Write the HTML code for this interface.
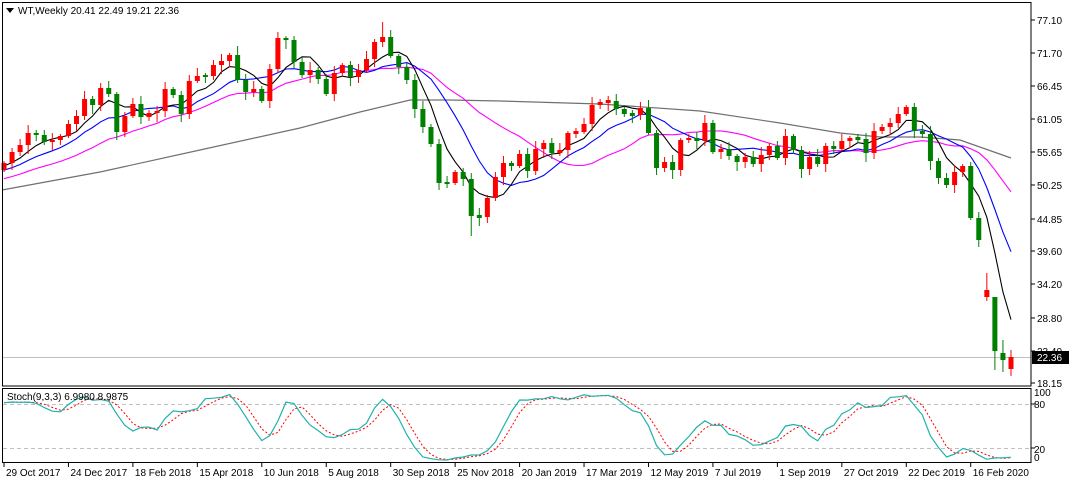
<!DOCTYPE html>
<html><head><meta charset="utf-8">
<style>
html,body{margin:0;padding:0;background:#fff;}
svg{display:block;font-family:"Liberation Sans",sans-serif;}
</style></head>
<body>
<svg id="s" width="1071" height="484" xmlns="http://www.w3.org/2000/svg"></svg>
<script>
var C=[163,152,145,133,135,142,140,136,124,116,99,105,88,94,132,116,104,117,113,111,89,95,114,81,76,76,65,61,55,80,92,89,101,69,38,40,62,75,70,79,94,73,65,77,70,59,42,37,56,67,80,109,127,144,183,183,172,179,216,217,198,177,163,166,154,171,149,143,153,150,133,132,124,105,102,101,109,114,115,108,133,168,162,170,140,138,141,123,152,149,156,162,157,164,155,146,158,136,150,169,157,164,146,149,141,138,139,153,131,127,123,114,107,131,134,161,178,185,172,166,218,240,290,351,360,357];
var O=C.map(function(v,i){return i?C[i-1]:170});
O[123]=297;O[124]=353;O[125]=369;O[122]=297;
var N=C.length,sp=(1011-4)/(N-1);
function X(i){return 4+i*sp;}
var H=[],L=[];
for(var i=0;i<N;i++){var r1=2+((i*37)%7),r2=2+((i*53)%8);H.push(Math.min(O[i],C[i])-r1);L.push(Math.max(O[i],C[i])+r2);}
H[34]=32;H[47]=22;L[58]=236;H[29]=46;L[54]=190;H[122]=273;L[124]=372;L[125]=376;H[124]=340;H[123]=300;L[123]=370;
var s='';
function ln(x1,y1,x2,y2,c,w,d){s+='<line x1="'+x1+'" y1="'+y1+'" x2="'+x2+'" y2="'+y2+'" stroke="'+c+'" stroke-width="'+(w||1)+'"'+(d?' stroke-dasharray="'+d+'"':'')+'/>';}
function pl(pts,c,w,d){s+='<polyline fill="none" points="'+pts.join(' ')+'" stroke="'+c+'" stroke-width="'+(w||1)+'"'+(d?' stroke-dasharray="'+d+'"':'')+'/>';}
ln(2,357.5,1031,357.5,'#c0c0c0',1);
pl(['2,190','100,172','200,150','300,128','360,112','410,100','450,100','500,101','600,104','700,111','780,123','840,133','880,137','920,137','960,140','1011,158'],'#707070',1.2);
var pad=[];for(var k=0;k<25;k++)pad.push(205-k*1.7);
var A=pad.concat(C);
function ma(p,col){var pts=[];for(var i=0;i<N;i++){var t=0;for(var j=0;j<p;j++)t+=A[i+25-j];pts.push(X(i).toFixed(1)+','+(t/p).toFixed(1));}pl(pts,col,1.1);}
ma(20,'#ff00ff');ma(10,'#0000ff');ma(5,'#000000');
for(var i=0;i<N;i++){var x=X(i),up=C[i]<O[i],col=up?'#ff0000':'#008000';
ln(x,H[i],x,L[i],col,1);var t=Math.min(O[i],C[i]),b=Math.max(O[i],C[i]);if(b-t<2){t-=1;b+=1;}
s+='<rect x="'+(x-2.5)+'" y="'+t+'" width="5" height="'+(b-t)+'" fill="'+col+'"/>';}
s+='<rect x="2.5" y="2.5" width="1028.5" height="383.5" fill="none" stroke="#000"/>';
s+='<rect x="2.5" y="388.5" width="1028.5" height="74" fill="none" stroke="#000"/>';
var pl2=[[77.10,20],[71.70,53],[66.45,86],[61.05,119],[55.65,152],[50.25,185],[44.85,219],[39.60,251],[34.20,284],[28.80,318],[23.40,351],[18.15,383]];
pl2.forEach(function(p){ln(1031,p[1],1035,p[1],'#000');s+='<text x="1037" y="'+(p[1]+4)+'" font-size="10" fill="#000">'+p[0].toFixed(2)+'</text>';});
s+='<rect x="1032" y="351" width="37" height="13" fill="#000"/><text x="1037" y="361" font-size="10" fill="#fff">22.36</text>';
function SY(v){return 462.7-v*0.733;}
ln(3,404.5,1030,404.5,'#c0c0c0',1,'4,3');ln(3,448.5,1030,448.5,'#c0c0c0',1,'4,3');
var raw=[];for(var i=0;i<N;i++){var hh=1e9,ll=-1e9;for(var j=Math.max(0,i-8);j<=i;j++){hh=Math.min(hh,H[j]);ll=Math.max(ll,L[j]);}raw.push([ll-C[i],ll-hh]);}
var K=[];for(var i=0;i<N;i++){var a=0,b=0;for(var j=Math.max(0,i-2);j<=i;j++){a+=raw[j][0];b+=raw[j][1];}K.push(100*a/b);}
var D=[];for(var i=0;i<N;i++){var t=0,n=0;for(var j=Math.max(0,i-2);j<=i;j++){t+=K[j];n++;}D.push(t/n);}
var kp=[],dp=[];for(var i=0;i<N;i++){kp.push(X(i).toFixed(1)+','+SY(K[i]).toFixed(1));dp.push(X(i).toFixed(1)+','+SY(D[i]).toFixed(1));}
pl(dp,'#ff0000',1,'2,2');pl(kp,'#20b2aa',1.2);
s+='<text x="7" y="400" font-size="10" fill="#000">Stoch(9,3,3) <tspan>6.9980 8.9875</tspan></text>';
[['100',395],['80',407],['20',452],['0',460]].forEach(function(p){s+='<text x="1034" y="'+(p[1]+1)+'" font-size="10" fill="#000">'+p[0]+'</text>';});
ln(1031,404,1035,404,'#000');ln(1031,448,1035,448,'#000');
var ds=['29 Oct 2017','24 Dec 2017','18 Feb 2018','15 Apr 2018','10 Jun 2018','5 Aug 2018','30 Sep 2018','25 Nov 2018','20 Jan 2019','17 Mar 2019','12 May 2019','7 Jul 2019','1 Sep 2019','27 Oct 2019','22 Dec 2019','16 Feb 2020'];
ds.forEach(function(d,i){var x=4+i*8*sp;ln(x,462,x,467,'#000');s+='<text x="'+(x+2)+'" y="476" font-size="10" fill="#000">'+d+'</text>';});
s+='<polygon points="6,8 14,8 10,13" fill="#000"/><text x="18" y="14" font-size="10" fill="#000">WT,Weekly  20.41 22.49 19.21 22.36</text>';
document.getElementById('s').innerHTML=s;
</script>
</body></html>
